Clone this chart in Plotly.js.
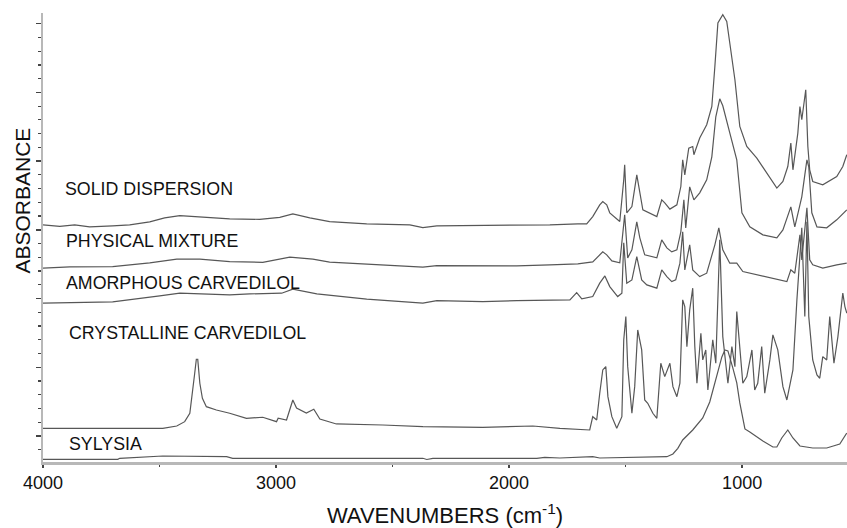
<!DOCTYPE html>
<html>
<head>
<meta charset="utf-8">
<script src="https://cdn.plot.ly/plotly-3.0.1.min.js"></script>
<style>
  html, body { margin: 0; padding: 0; background: #fff; }
  #chart { width: 847px; height: 528px; }
</style>
</head>
<body>
<div id="chart"></div>
<script>
// Series names (labels drawn next to each spectrum)
const seriesNames = ["SOLID DISPERSION", "PHYSICAL MIXTURE", "AMORPHOUS CARVEDILOL", "CRYSTALLINE CARVEDILOL", "SYLYSIA"];

// Tick labels for the wavenumber axis
const xTickValues = [4000, 3000, 2000, 1000];
const xTickLabels = ["4000", "3000", "2000", "1000"];

// SOLID DISPERSION (wavenumber cm-1, stacked absorbance, arbitrary units)
const sdWave = [4000, 3928, 3864, 3800, 3701, 3628, 3542, 3478, 3413, 3327,
  3199, 3070, 2984, 2928, 2855, 2770, 2714, 2611, 2426, 2370,
  2310, 1941, 1825, 1705, 1667, 1641, 1611, 1598, 1581, 1568,
  1525, 1508, 1504, 1495, 1473, 1452, 1443, 1426, 1366, 1345,
  1332, 1310, 1280, 1263, 1255, 1246, 1229, 1212, 1207, 1182,
  1152, 1130, 1117, 1104, 1083, 1066, 1053, 1031, 1010, 980,
  937, 894, 851, 825, 804, 791, 782, 761, 752, 744,
  731, 727, 718, 710, 697, 654, 594, 568, 551];
const sdAbs = [2.37, 2.355, 2.37, 2.35, 2.36, 2.37, 2.40, 2.44, 2.463, 2.45,
  2.43, 2.425, 2.445, 2.48, 2.44, 2.403, 2.393, 2.38, 2.37, 2.343,
  2.36, 2.367, 2.37, 2.38, 2.38, 2.453, 2.57, 2.603, 2.57, 2.49,
  2.403, 2.82, 2.97, 2.49, 2.553, 2.87, 2.753, 2.52, 2.453, 2.62,
  2.59, 2.527, 2.57, 2.753, 3.02, 2.87, 3.137, 3.153, 3.07, 3.237,
  3.37, 3.553, 3.953, 4.387, 4.47, 4.403, 4.187, 3.82, 3.353, 3.153,
  3.037, 2.887, 2.737, 2.803, 2.953, 3.187, 2.92, 3.287, 3.553, 3.42,
  3.62, 3.72, 3.153, 2.92, 2.803, 2.77, 2.853, 2.953, 3.07];

// PHYSICAL MIXTURE
const pmWave = [4000, 3885, 3701, 3542, 3426, 3327, 3199, 3057, 2941, 2842,
  2770, 2611, 2370, 2310, 1967, 1825, 1705, 1641, 1598, 1581,
  1559, 1525, 1504, 1491, 1473, 1452, 1439, 1418, 1366, 1345,
  1323, 1302, 1280, 1263, 1250, 1242, 1225, 1207, 1182, 1152,
  1130, 1113, 1096, 1083, 1066, 1053, 1023, 1001, 967, 911,
  851, 825, 791, 774, 752, 744, 731, 722, 714, 701,
  679, 637, 594, 551];
const pmAbs = [1.937, 1.95, 1.953, 1.99, 2.027, 2.027, 2.003, 1.995, 2.047, 2.027,
  1.997, 1.98, 1.947, 1.963, 1.96, 1.97, 1.98, 2.00, 2.10, 2.07,
  2.01, 1.99, 2.47, 2.04, 2.12, 2.40, 2.24, 2.07, 2.04, 2.22,
  2.14, 2.10, 2.12, 2.30, 2.62, 2.34, 2.75, 2.62, 2.69, 2.82,
  3.05, 3.45, 3.63, 3.56, 3.42, 3.29, 3.02, 2.49, 2.35, 2.27,
  2.24, 2.32, 2.55, 2.35, 2.57, 2.65, 2.87, 3.02, 2.95, 2.49,
  2.35, 2.34, 2.42, 2.52];

// AMORPHOUS CARVEDILOL
const amWave = [4000, 3842, 3701, 3499, 3413, 3199, 3113, 2976, 2928, 2825,
  2611, 2370, 2310, 2113, 1967, 1739, 1710, 1688, 1641, 1611,
  1589, 1568, 1534, 1516, 1508, 1495, 1473, 1452, 1431, 1409,
  1366, 1345, 1323, 1302, 1285, 1267, 1255, 1246, 1225, 1212,
  1182, 1152, 1130, 1117, 1100, 1083, 1053, 1023, 997, 937,
  881, 825, 808, 791, 774, 752, 744, 722, 710, 697,
  654, 594, 551];
const amAbs = [1.587, 1.59, 1.60, 1.66, 1.687, 1.67, 1.68, 1.687, 1.727, 1.68,
  1.627, 1.587, 1.613, 1.603, 1.613, 1.62, 1.693, 1.63, 1.653, 1.787,
  1.86, 1.753, 1.653, 1.687, 2.19, 1.787, 1.82, 2.053, 1.82, 1.77,
  1.737, 1.92, 1.853, 1.803, 1.82, 1.987, 2.30, 1.92, 2.17, 1.92,
  1.853, 1.887, 2.053, 2.17, 2.34, 2.12, 1.987, 1.987, 1.903, 1.87,
  1.847, 1.813, 1.803, 1.92, 1.887, 2.27, 2.02, 2.54, 2.02, 1.97,
  1.937, 1.97, 1.987];

// CRYSTALLINE CARVEDILOL
const crWave = [4000, 3842, 3486, 3426, 3392, 3370, 3358, 3349, 3342, 3336,
  3327, 3316, 3299, 3256, 3199, 3127, 3057, 2998, 2991, 2955,
  2928, 2912, 2870, 2838, 2812, 2741, 2542, 2370, 2113, 1898,
  1782, 1684, 1654, 1641, 1624, 1611, 1598, 1585, 1576, 1559,
  1538, 1516, 1508, 1499, 1491, 1473, 1461, 1448, 1431, 1418,
  1405, 1383, 1366, 1349, 1332, 1310, 1297, 1280, 1267, 1255,
  1246, 1237, 1225, 1212, 1203, 1194, 1177, 1169, 1156, 1147,
  1126, 1113, 1104, 1096, 1083, 1061, 1044, 1031, 1023, 1010,
  997, 980, 958, 946, 933, 916, 903, 881, 868, 847,
  825, 808, 800, 782, 765, 757, 744, 731, 722, 714,
  697, 679, 667, 654, 637, 624, 606, 589, 568, 559,
  551];
const crAbs = [0.337, 0.337, 0.337, 0.36, 0.403, 0.487, 0.687, 0.887, 1.027, 1.027,
  0.787, 0.637, 0.553, 0.52, 0.487, 0.437, 0.447, 0.403, 0.437, 0.42,
  0.62, 0.54, 0.49, 0.527, 0.43, 0.38, 0.37, 0.353, 0.347, 0.36,
  0.337, 0.32, 0.32, 0.453, 0.42, 0.687, 0.92, 0.953, 0.653, 0.453,
  0.337, 0.453, 1.22, 1.453, 0.953, 0.487, 0.753, 1.32, 1.12, 0.62,
  0.587, 0.487, 0.437, 0.987, 0.853, 0.987, 0.753, 0.653, 0.787, 1.62,
  1.553, 1.153, 1.52, 1.737, 1.153, 0.787, 1.287, 1.02, 1.12, 0.72,
  1.22, 0.987, 1.787, 2.22, 1.253, 0.787, 1.153, 0.953, 1.503, 1.153,
  0.787, 0.853, 1.12, 0.72, 0.787, 1.153, 0.687, 1.02, 1.27, 1.12,
  0.753, 0.62, 0.72, 0.92, 1.62, 1.92, 2.34, 1.453, 2.40, 1.453,
  1.02, 0.87, 0.837, 1.053, 1.02, 1.453, 0.987, 1.253, 1.687, 1.553,
  1.487];

// SYLYSIA
const syWave = [4000, 3679, 3671, 3486, 3212, 3186, 2370, 2353, 2327, 1881,
  1847, 1782, 1641, 1611, 1323, 1297, 1276, 1255, 1212, 1169,
  1139, 1109, 1087, 1074, 1061, 1040, 1023, 1010, 988, 967,
  937, 911, 868, 851, 830, 804, 782, 752, 697, 637,
  581, 551];
const syAbs = [0.027, 0.027, 0.037, 0.06, 0.053, 0.037, 0.037, 0.025, 0.037, 0.037,
  0.047, 0.04, 0.053, 0.04, 0.053, 0.08, 0.137, 0.22, 0.32, 0.44,
  0.60, 0.87, 1.05, 1.12, 1.11, 0.94, 0.79, 0.59, 0.33, 0.30,
  0.25, 0.21, 0.15, 0.15, 0.24, 0.32, 0.24, 0.16, 0.14, 0.14,
  0.18, 0.29];

// Label anchor positions (wavenumber, absorbance) for each series name
const labelWave = [3913, 3911, 3911, 3898, 3898];
const labelAbs = [2.727, 2.213, 1.787, 1.287, 0.18];

const seriesWave = [sdWave, pmWave, amWave, crWave, syWave];
const seriesAbs = [sdAbs, pmAbs, amAbs, crAbs, syAbs];

const lineColor = "#575757";
const fontFamily = "Liberation Sans, Arial, sans-serif";

const traces = seriesNames.map((name, i) => ({
  type: "scatter",
  mode: "lines",
  name: name,
  x: seriesWave[i],
  y: seriesAbs[i],
  line: { color: lineColor, width: 1.2 },
  hoverinfo: "x+y+name"
}));

const annotations = seriesNames.map((name, i) => ({
  x: labelWave[i],
  y: labelAbs[i],
  xref: "x",
  yref: "y",
  text: name,
  showarrow: false,
  xanchor: "left",
  yanchor: "middle",
  font: { family: fontFamily, size: 17.8, color: "#111" }
}));

// Vertical axis title, placed as in the reference (above the plot's middle)
annotations.push({
  x: -0.0255,
  y: 0.5835,
  xref: "paper",
  yref: "paper",
  text: "ABSORBANCE",
  textangle: -90,
  showarrow: false,
  xanchor: "center",
  yanchor: "middle",
  font: { family: fontFamily, size: 21, color: "#111" }
});

const layout = {
  width: 847,
  height: 528,
  margin: { l: 43, r: 0, t: 13, b: 66 },
  paper_bgcolor: "#ffffff",
  plot_bgcolor: "#ffffff",
  showlegend: false,
  font: { family: fontFamily, color: "#111" },
  xaxis: {
    range: [4000, 550],
    tickmode: "array",
    tickvals: xTickValues,
    ticktext: xTickLabels,
    ticks: "outside",
    ticklen: 3,
    tickwidth: 1.5,
    tickcolor: "#444",
    minor: { dtick: 500, tick0: 0, ticks: "outside", ticklen: 2, tickwidth: 1.5, tickcolor: "#444", showgrid: false },
    showgrid: false,
    zeroline: false,
    showline: true,
    linecolor: "#b8b8b8",
    linewidth: 2.5,
    tickfont: { family: fontFamily, size: 18, color: "#111" },
    title: { text: "WAVENUMBERS (cm<sup>-1</sup>)", font: { family: fontFamily, size: 22, color: "#111" }, standoff: 17 }
  },
  yaxis: {
    range: [0, 4.487],
    tickmode: "linear",
    tick0: 0.26,
    dtick: 0.6867,
    ticks: "outside",
    ticklen: 5,
    tickwidth: 1.5,
    tickcolor: "#444",
    minor: { tick0: 0.26, dtick: 0.13734, ticks: "outside", ticklen: 3, tickwidth: 1.2, tickcolor: "#444", showgrid: false },
    showticklabels: false,
    showgrid: false,
    zeroline: false,
    showline: true,
    linecolor: "#b8b8b8",
    linewidth: 2.5
  },
  annotations: annotations
};

Plotly.newPlot("chart", traces, layout, { displayModeBar: false, staticPlot: true });
</script>
</body>
</html>
